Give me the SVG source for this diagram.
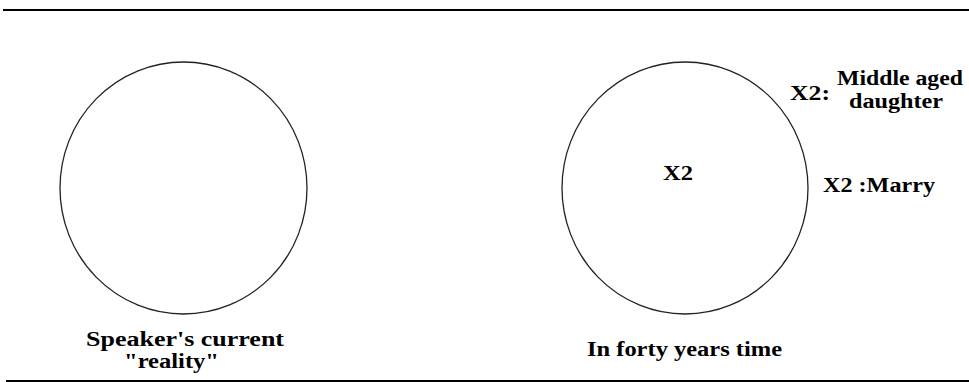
<svg xmlns="http://www.w3.org/2000/svg" width="969" height="382" viewBox="0 0 969 382">
<style>
.rule{stroke:#000;stroke-width:2;fill:none}
.circ{fill:none;stroke:#222;stroke-width:1.3}
.t{font-family:"Liberation Serif","Times New Roman",serif;font-weight:bold;font-size:20px;fill:#000}
</style>
<rect x="0" y="0" width="969" height="382" fill="#fff"/>
<line class="rule" x1="3" y1="10" x2="969" y2="10"/>
<line class="rule" x1="6" y1="381" x2="969" y2="381"/>
<g id="connectors"/>
<g id="current">
<ellipse class="circ" cx="183.5" cy="188" rx="123.5" ry="126"/>
<text class="t" x="86" y="346" textLength="198" lengthAdjust="spacingAndGlyphs">Speaker's current</text>
<text class="t" x="124" y="368" textLength="95" lengthAdjust="spacingAndGlyphs">"reality"</text>
</g>
<g id="future">
<ellipse class="circ" cx="685" cy="188" rx="123" ry="126"/>
<text class="t" x="663" y="180" textLength="30" lengthAdjust="spacingAndGlyphs">X2</text>
<text class="t" x="587" y="356" textLength="195" lengthAdjust="spacingAndGlyphs">In forty years time</text>
</g>
<g id="label-daughter">
<text class="t" x="790" y="100" textLength="40" lengthAdjust="spacingAndGlyphs">X2:</text>
<text class="t" x="837" y="85" textLength="126" lengthAdjust="spacingAndGlyphs">Middle aged</text>
<text class="t" x="849" y="108" textLength="94" lengthAdjust="spacingAndGlyphs">daughter</text>
</g>
<g id="label-marry">
<text class="t" x="823" y="192" textLength="112" lengthAdjust="spacingAndGlyphs">X2 :Marry</text>
</g>
</svg>
